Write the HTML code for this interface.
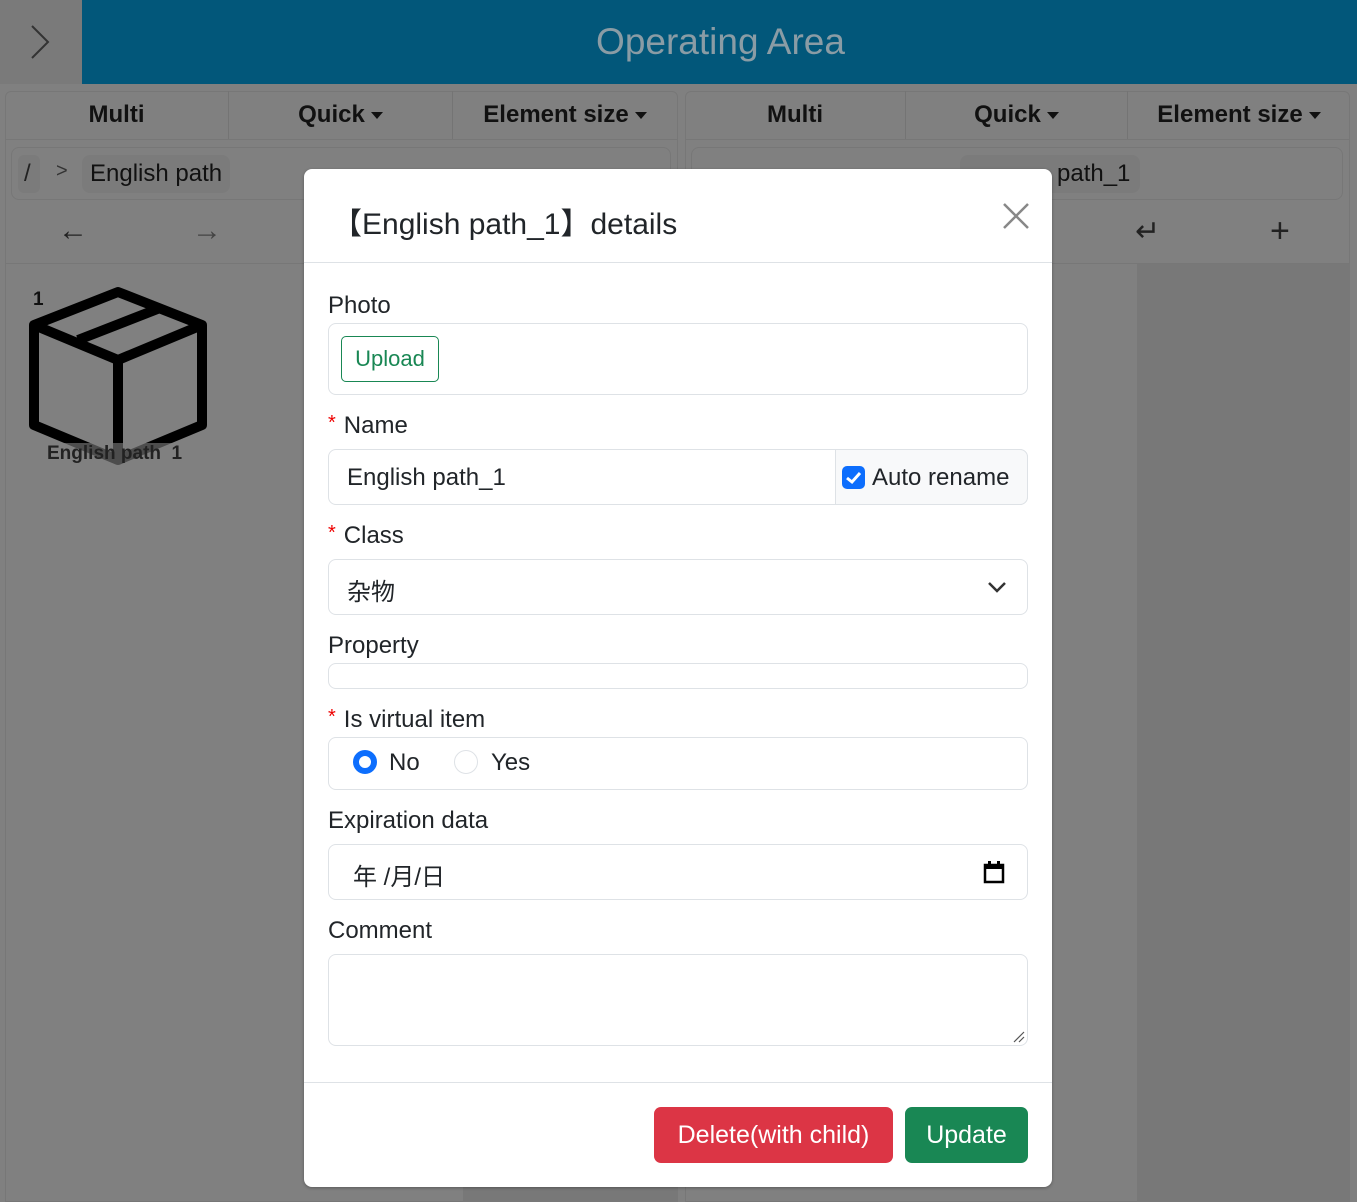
<!DOCTYPE html>
<html><head><meta charset="utf-8"><style>
*{box-sizing:border-box;margin:0;padding:0}
body{width:1357px;height:1202px;position:relative;overflow:hidden;background:#808080;font-family:"Liberation Sans","Noto Sans CJK SC",sans-serif;color:#212529}
.a{position:absolute}
.tab{position:absolute;top:91px;height:48px;font-weight:bold;font-size:24px;color:#111;display:flex;align-items:center;justify-content:center;border-right:1px solid #747474}
.car{display:inline-block;width:0;height:0;border-left:6px solid transparent;border-right:6px solid transparent;border-top:7px solid #111;margin-left:6px}
.lbl{position:absolute;left:328px;font-size:24px;color:#212529}
.req{color:#e00;font-size:20px;margin-right:8px;vertical-align:top}
.inp{position:absolute;left:328px;width:700px;border:1px solid #dee2e6;border-radius:8px;background:#fff}
</style></head><body>
<div class="a" style="left:0;top:0;width:82px;height:84px;background:#7a7a7a"></div>
<svg class="a" style="left:28px;top:24px" width="24" height="36"><polyline points="4,2 20,18 4,34" fill="none" stroke="#333" stroke-width="2"/></svg>
<div class="a" style="left:82px;top:0;width:1275px;height:84px;background:#02577a;color:#8a9ca5;font-size:37px;display:flex;align-items:center;justify-content:center;padding-left:0"><span style="position:relative;left:1px;top:0">Operating Area</span></div>

<div class="a" style="left:5px;top:91px;width:673px;height:1111px;border:1px solid #777;border-radius:6px 6px 0 0"></div>
<div class="a" style="left:5px;top:139px;width:673px;height:1px;background:#777"></div>
<div class="tab" style="left:5px;width:224px">Multi</div>
<div class="tab" style="left:229px;width:224px">Quick<span class="car"></span></div>
<div class="tab" style="left:453px;width:224px;border:none">Element size<span class="car"></span></div>
<div class="a" style="left:11px;top:147px;width:660px;height:53px;border:1px solid #777;border-radius:8px"></div>
<div class="a" style="left:18px;top:155px;width:22px;height:38px;background:#7b7b7b;border-radius:6px;font-size:24px;padding-left:6px;line-height:38px;color:#222">/</div>
<div class="a" style="left:56px;top:160px;font-size:20px;color:#333">&gt;</div>
<div class="a" style="left:82px;top:155px;height:38px;padding:0 8px;background:#7b7b7b;border-radius:8px;font-size:24px;line-height:38px;color:#111">English path</div>
<div class="a" style="left:58px;top:214px;font-size:30px;color:#222">&larr;</div>
<div class="a" style="left:192px;top:214px;font-size:30px;color:#444">&rarr;</div>
<div class="a" style="left:5px;top:263px;width:673px;height:1px;background:#777"></div>
<div class="a" style="left:463px;top:1187px;width:215px;height:15px;background:#787878"></div>
<div class="a" style="left:33px;top:289px;font-size:19px;font-weight:bold;color:#111">1</div>
<svg class="a" style="left:0;top:260px" width="260" height="220"><g fill="none" stroke="#000" stroke-width="10" stroke-linejoin="round"><polygon points="118,32 202,65 202,165 118,200 34,165 34,65"/><polyline points="34,65 118,100 202,65"/><line x1="118" y1="100" x2="118" y2="200"/><line x1="78" y1="80" x2="160" y2="48"/></g><rect x="45" y="183" width="145" height="25" fill="#808080" opacity="0.6"/></svg>
<div class="a" style="left:47px;top:443px;font-size:19px;font-weight:bold;color:#222">English path&nbsp;&nbsp;1</div>

<div class="a" style="left:685px;top:91px;width:665px;height:1111px;border:1px solid #777;border-radius:6px 6px 0 0"></div>
<div class="a" style="left:685px;top:139px;width:665px;height:1px;background:#777"></div>
<div class="tab" style="left:685px;width:221px">Multi</div>
<div class="tab" style="left:906px;width:222px">Quick<span class="car"></span></div>
<div class="tab" style="left:1128px;width:222px;border:none">Element size<span class="car"></span></div>
<div class="a" style="left:691px;top:147px;width:652px;height:53px;border:1px solid #777;border-radius:8px"></div>
<div class="a" style="left:960px;top:155px;width:180px;height:38px;background:#7b7b7b;border-radius:8px;font-size:24px;line-height:38px;padding-left:97px;color:#111">path_1</div>
<div class="a" style="left:1135px;top:214px;font-size:30px;color:#222">&#8629;</div>
<div class="a" style="left:1270px;top:212px;font-size:34px;color:#222">+</div>
<div class="a" style="left:685px;top:263px;width:665px;height:1px;background:#777"></div>
<div class="a" style="left:1137px;top:264px;width:213px;height:938px;background:#787878"></div>

<div class="a" style="left:304px;top:169px;width:748px;height:1018px;background:#fff;border-radius:8px;box-shadow:0 1px 3px rgba(0,0,0,.3)"></div>
<div class="a" style="left:332px;top:199px;font-size:30px;color:#212529">【English path_1】details</div>
<svg class="a" style="left:1002px;top:202px" width="28" height="28"><path d="M2 2L26 26M26 2L2 26" stroke="#888" stroke-width="2.5"/></svg>
<div class="a" style="left:304px;top:262px;width:748px;height:1px;background:#dee2e6"></div>

<div class="lbl" style="top:292px">Photo</div>
<div class="inp" style="top:323px;height:72px"></div>
<div class="a" style="left:341px;top:336px;width:98px;height:46px;border:1px solid #198754;border-radius:5px;color:#198754;font-size:22px;display:flex;align-items:center;justify-content:center">Upload</div>

<div class="lbl" style="top:412px"><span class="req">*</span>Name</div>
<div class="inp" style="top:449px;height:56px"></div>
<div class="a" style="left:347px;top:464px;font-size:24px">English path_1</div>
<div class="a" style="left:835px;top:449px;width:193px;height:56px;background:#f8f9fa;border:1px solid #dee2e6;border-radius:0 8px 8px 0"></div>
<div class="a" style="left:842px;top:466px;width:23px;height:23px;background:#0d6efd;border-radius:5px"><svg width="23" height="23"><polyline points="5,12 10,16 18,7" fill="none" stroke="#fff" stroke-width="3"/></svg></div>
<div class="a" style="left:872px;top:464px;font-size:24px">Auto rename</div>

<div class="lbl" style="top:522px"><span class="req">*</span>Class</div>
<div class="inp" style="top:559px;height:56px"></div>
<div class="a" style="left:347px;top:572px;font-size:24px">杂物</div>
<svg class="a" style="left:987px;top:580px" width="20" height="14"><polyline points="2,3 10,11 18,3" fill="none" stroke="#333" stroke-width="2.5"/></svg>

<div class="lbl" style="top:632px">Property</div>
<div class="inp" style="top:663px;height:26px"></div>

<div class="lbl" style="top:706px"><span class="req">*</span>Is virtual item</div>
<div class="inp" style="top:737px;height:53px"></div>
<div class="a" style="left:353px;top:750px;width:24px;height:24px;border-radius:50%;border:6px solid #0d6efd;background:#fff"></div>
<div class="a" style="left:389px;top:749px;font-size:24px">No</div>
<div class="a" style="left:454px;top:750px;width:24px;height:24px;border-radius:50%;border:1px solid #dee2e6"></div>
<div class="a" style="left:491px;top:749px;font-size:24px">Yes</div>

<div class="lbl" style="top:807px">Expiration data</div>
<div class="inp" style="top:844px;height:56px"></div>
<div class="a" style="left:353px;top:857px;font-size:24px">年 /月/日</div>
<svg class="a" style="left:983px;top:860px" width="22" height="24"><rect x="2" y="5" width="18" height="17" fill="none" stroke="#000" stroke-width="2.5"/><rect x="2" y="5" width="18" height="4" fill="#000"/><rect x="5" y="1" width="3" height="5" fill="#000"/><rect x="14" y="1" width="3" height="5" fill="#000"/></svg>

<div class="lbl" style="top:917px">Comment</div>
<div class="inp" style="top:954px;height:92px"></div>
<svg class="a" style="left:1012px;top:1030px" width="14" height="14"><path d="M2 12L12 2M7 12L12 7" stroke="#555" stroke-width="1.2"/></svg>

<div class="a" style="left:304px;top:1082px;width:748px;height:1px;background:#dee2e6"></div>
<div class="a" style="left:654px;top:1107px;width:239px;height:56px;background:#dc3545;border-radius:7px;color:#fff;font-size:25px;display:flex;align-items:center;justify-content:center">Delete(with child)</div>
<div class="a" style="left:905px;top:1107px;width:123px;height:56px;background:#198754;border-radius:7px;color:#fff;font-size:25px;display:flex;align-items:center;justify-content:center">Update</div>
</body></html>
